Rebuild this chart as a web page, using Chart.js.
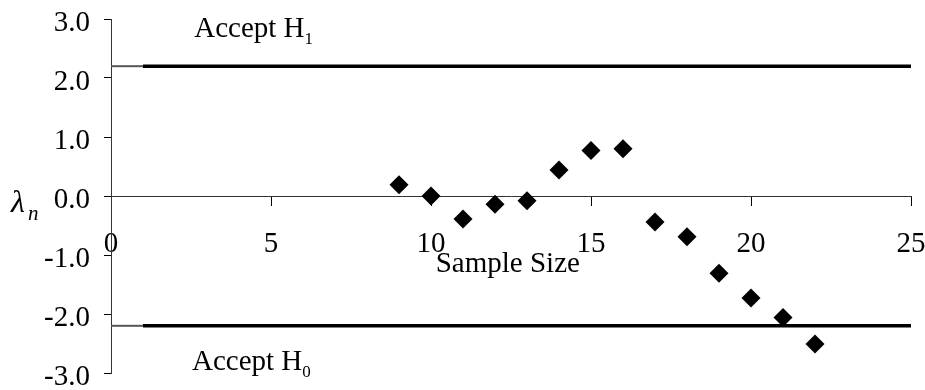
<!DOCTYPE html>
<html>
<head>
<meta charset="utf-8">
<script src="https://cdn.jsdelivr.net/npm/chart.js@4/dist/chart.umd.min.js"></script>
<style>
  html, body { margin: 0; padding: 0; background: #fff; }
  #wrap { width: 925px; height: 390px; position: relative; }
</style>
</head>
<body>
<div id="wrap"><canvas id="c" width="925" height="390"></canvas></div>
<script>
// sample sizes and SPRT statistic
const sampleSize = [9, 10, 11, 12, 13, 14, 15, 16, 17, 18, 19, 20, 21, 22];
const lambdaN = [0.19, 0.00, -0.39, -0.14, -0.08, 0.44, 0.77, 0.80, -0.44, -0.69, -1.31, -1.73, -2.06, -2.51];

// decision boundaries
const upperBound = 2.2;
const lowerBound = -2.2;
const boundStartX = [0, 1];
const boundX = [1, 25];

const xTicks = [0, 5, 10, 15, 20, 25];
const yTicks = [-3, -2, -1, 0, 1, 2, 3];

const SERIF = '"Liberation Serif", "Times New Roman", serif';

function seg(xs, y) { return xs.map(x => ({ x, y })); }

const labelsPlugin = {
    id: 'labels',
    afterDraw(chart) {
        const ctx = chart.ctx;
        const xs = chart.scales.x, ys = chart.scales.y;
        ctx.save();
        ctx.fillStyle = '#000';
        ctx.textBaseline = 'alphabetic';

        // Accept H1 / H0 with subscripts
        const sub = (txt, s, x, y) => {
            ctx.font = '29px ' + SERIF;
            ctx.textAlign = 'left';
            ctx.fillText(txt, x, y);
            const w = ctx.measureText(txt).width;
            ctx.font = '17px ' + SERIF;
            ctx.fillText(s, x + w, y + 7);
        };
        sub('Accept H', '1', xs.getPixelForValue(2.6), ys.getPixelForValue(2.7));
        sub('Accept H', '0', xs.getPixelForValue(2.53), ys.getPixelForValue(-2.95));

        // x axis title
        ctx.font = '29px ' + SERIF;
        ctx.textAlign = 'center';
        ctx.fillText('Sample Size', xs.getPixelForValue(12.4), ys.getPixelForValue(-1.29));

        // y axis title lambda_n
        ctx.textAlign = 'left';
        ctx.font = 'italic 32px ' + SERIF;
        ctx.fillText('\u03bb', 11, 212);
        ctx.font = 'italic 21px ' + SERIF;
        ctx.fillText('n', 28, 220);
        ctx.restore();
    }
};

new Chart(document.getElementById('c'), {
    type: 'scatter',
    data: {
        datasets: [
            {
                data: sampleSize.map((x, i) => ({ x, y: lambdaN[i] })),
                pointStyle: 'rectRot',
                pointRadius: 9.5,
                pointHoverRadius: 9.5,
                backgroundColor: '#000',
                borderColor: '#000',
                borderWidth: 0,
                showLine: false
            },
            {
                type: 'line',
                data: seg(boundX, upperBound),
                borderColor: '#000', borderWidth: 3.5, pointRadius: 0, fill: false
            },
            {
                type: 'line',
                data: seg(boundX, lowerBound),
                borderColor: '#000', borderWidth: 3.5, pointRadius: 0, fill: false
            },
            {
                type: 'line',
                data: seg(boundStartX, upperBound),
                borderColor: '#555', borderWidth: 2, pointRadius: 0, fill: false
            },
            {
                type: 'line',
                data: seg(boundStartX, lowerBound),
                borderColor: '#555', borderWidth: 2, pointRadius: 0, fill: false
            }
        ]
    },
    options: {
        responsive: false,
        animation: false,
        devicePixelRatio: 1,
        layout: { padding: { top: 19, right: 14, bottom: 17, left: 0 } },
        plugins: { legend: { display: false }, tooltip: { enabled: false } },
        scales: {
            x: {
                type: 'linear',
                min: 0, max: 25,
                position: { y: 0 },
                afterBuildTicks: s => { s.ticks = xTicks.map(v => ({ value: v })); },
                afterFit: s => { s.paddingLeft = 0; s.paddingRight = 0; s.height = 0; },
                ticks: {
                    color: '#000',
                    font: { family: SERIF, size: 29 },
                    padding: 22,
                    maxRotation: 0,
                    autoSkip: false
                },
                grid: { drawOnChartArea: false, color: '#000', tickLength: 9, tickWidth: 1 },
                border: { color: '#333', width: 1 }
            },
            y: {
                type: 'linear',
                min: -3, max: 3,
                afterBuildTicks: s => { s.ticks = yTicks.map(v => ({ value: v })); },
                afterFit: s => { s.width = 111; s.paddingTop = 0; s.paddingBottom = 0; },
                ticks: {
                    color: '#000',
                    font: { family: SERIF, size: 29 },
                    padding: 14,
                    labelOffset: 4,
                    callback: v => v.toFixed(1)
                },
                grid: { drawOnChartArea: false, color: '#000', tickLength: 7, tickWidth: 1 },
                border: { color: '#333', width: 1 }
            }
        }
    },
    plugins: [labelsPlugin]
});
</script>
</body>
</html>
